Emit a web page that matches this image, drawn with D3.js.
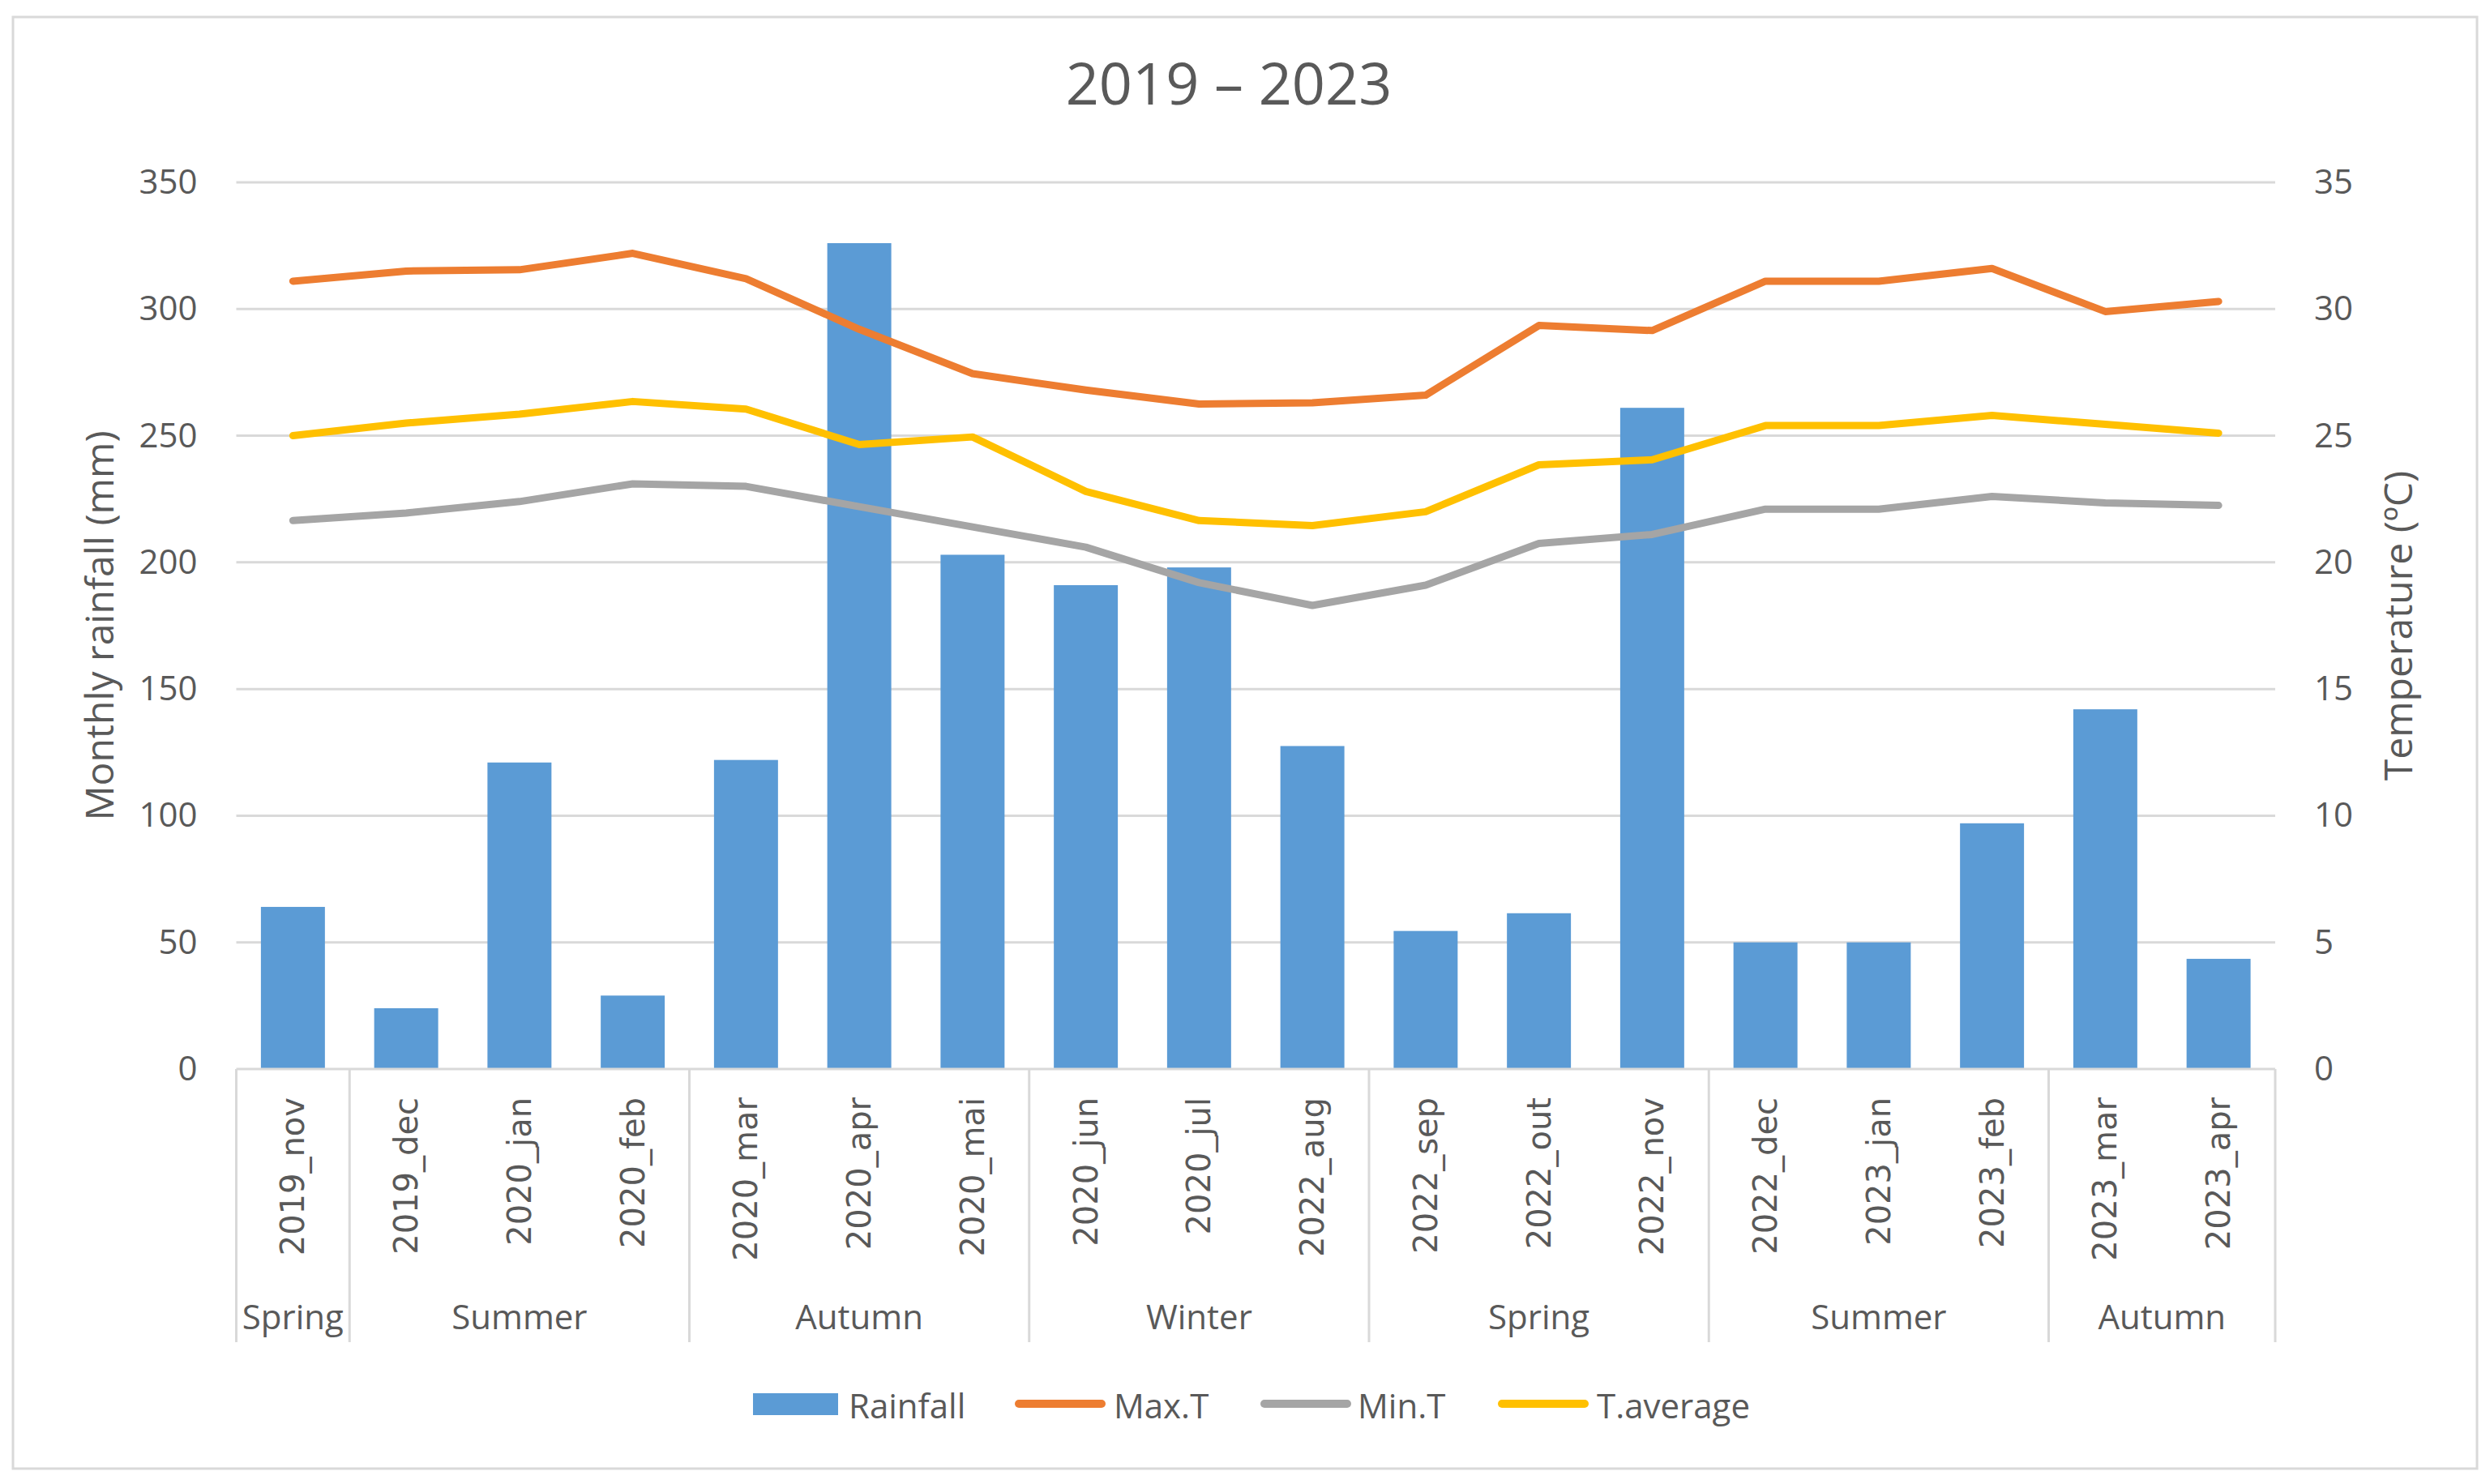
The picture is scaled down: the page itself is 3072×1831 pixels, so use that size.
<!DOCTYPE html>
<html>
<head>
<meta charset="utf-8">
<script src="https://cdn.jsdelivr.net/npm/d3@7"></script>
<style>
  html, body { margin: 0; padding: 0; background: #fff; }
  svg { display: block; }
  text { font-family: "Open Sans", sans-serif; fill: #595959; }
</style>
</head>
<body>
<div id="chart"></div>
<script>
// data
const categories = ["2019_nov", "2019_dec", "2020_jan", "2020_feb", "2020_mar", "2020_apr",
  "2020_mai", "2020_jun", "2020_jul", "2022_aug", "2022_sep", "2022_out",
  "2022_nov", "2022_dec", "2023_jan", "2023_feb", "2023_mar", "2023_apr"];
const seasons = ["Spring", "Summer", "Autumn", "Winter", "Spring", "Summer", "Autumn"];
const seasonSizes = [1, 3, 3, 3, 3, 3, 2];
const rainfall = [64, 24, 121, 29, 122, 326, 203, 191, 198, 127.5, 54.5, 61.5, 261, 50, 50, 97, 142, 43.5];
const maxT = [31.1, 31.5, 31.55, 32.2, 31.2, 29.2, 27.45, 26.8, 26.25, 26.3, 26.6, 29.35, 29.15, 31.1, 31.1, 31.6, 29.9, 30.3];
const minT = [21.65, 21.95, 22.4, 23.1, 23.0, 22.2, 21.4, 20.6, 19.2, 18.3, 19.1, 20.75, 21.1, 22.1, 22.1, 22.6, 22.35, 22.25];
const tAvg = [25.0, 25.5, 25.85, 26.35, 26.05, 24.65, 24.95, 22.8, 21.65, 21.45, 22.0, 23.85, 24.05, 25.4, 25.4, 25.8, 25.45, 25.1];
const rainTicks = [0, 50, 100, 150, 200, 250, 300, 350];
const tempTicks = [0, 5, 10, 15, 20, 25, 30, 35];

const width = 3072, height = 1831;
const margins = {top: 225, left: 291.5, right: 265, bottom: 512};
const grid = "#d9d9d9";
const colors = {rain: "#5b9bd5", max: "#ed7d31", min: "#a5a5a5", avg: "#ffc000"};

const svg = d3.select("#chart").append("svg")
  .attr("width", width)
  .attr("height", height)
  .attr("viewBox", "0 0 " + width + " " + height);

// outer frame
svg.append("rect")
  .attr("x", 16).attr("y", 21)
  .attr("width", 3040).attr("height", 1791)
  .attr("fill", "#fff")
  .attr("stroke", grid)
  .attr("stroke-width", 3);

const x0 = margins.left, x1 = width - margins.right;
const y0 = height - margins.bottom, y1 = margins.top;

const x = d3.scaleBand().domain(categories).range([x0, x1])
  .paddingInner(0.435).paddingOuter(0.2175);
const yRain = d3.scaleLinear().domain([0, 350]).range([y0, y1]);
const yTemp = d3.scaleLinear().domain([0, 35]).range([y0, y1]);
const cx = d => x(d) + x.bandwidth() / 2;

// title
svg.append("text")
  .attr("x", 1516).attr("y", 129)
  .attr("text-anchor", "middle")
  .style("font-size", "72px")
  .text("2019 \u2013 2023");

// gridlines
svg.append("g")
  .selectAll("line")
  .data(rainTicks.filter(d => d > 0))
  .join("line")
  .attr("x1", x0).attr("x2", x1)
  .attr("y1", d => yRain(d)).attr("y2", d => yRain(d))
  .attr("stroke", grid)
  .attr("stroke-width", 3);

// left axis
const left = svg.append("g")
  .attr("transform", "translate(" + x0 + ",0)")
  .call(d3.axisLeft(yRain).tickValues(rainTicks).tickSize(0).tickPadding(48));
left.select(".domain").remove();
left.selectAll("text")
  .style("font-size", "42px")
  .style("font-family", "'Open Sans', sans-serif")
  .attr("fill", "#595959");

// right axis
const right = svg.append("g")
  .attr("transform", "translate(" + x1 + ",0)")
  .call(d3.axisRight(yTemp).tickValues(tempTicks).tickSize(0).tickPadding(48));
right.select(".domain").remove();
right.selectAll("text")
  .style("font-size", "42px")
  .style("font-family", "'Open Sans', sans-serif")
  .attr("fill", "#595959");

// axis titles
svg.append("text")
  .attr("transform", "translate(121,772) rotate(-90)")
  .attr("text-anchor", "middle")
  .attr("dominant-baseline", "central")
  .style("font-size", "48px")
  .text("Monthly rainfall (mm)");

svg.append("text")
  .attr("transform", "translate(2957,772) rotate(-90)")
  .attr("text-anchor", "middle")
  .attr("dominant-baseline", "central")
  .style("font-size", "48px")
  .text("Temperature (\u00baC)");

// bars
svg.append("g")
  .selectAll("rect")
  .data(rainfall)
  .join("rect")
  .attr("x", (d, i) => x(categories[i]))
  .attr("y", d => yRain(d))
  .attr("width", x.bandwidth())
  .attr("height", d => yRain(0) - yRain(d))
  .attr("fill", colors.rain);

// category axis line
svg.append("line")
  .attr("x1", x0).attr("x2", x1)
  .attr("y1", y0).attr("y2", y0)
  .attr("stroke", grid)
  .attr("stroke-width", 3);

// category labels
svg.append("g")
  .selectAll("text")
  .data(categories)
  .join("text")
  .attr("transform", d => "translate(" + cx(d) + ",1354) rotate(-90)")
  .attr("text-anchor", "end")
  .attr("dominant-baseline", "central")
  .style("font-family", "'DejaVu Sans', sans-serif")
  .style("font-size", "40px")
  .text(d => d);

// season groups
const step = x.step();
let start = 0;
const groups = seasons.map((s, i) => {
  const g = {name: s, from: start, to: start + seasonSizes[i]};
  start += seasonSizes[i];
  return g;
});
const bounds = [0].concat(groups.map(g => g.to));

svg.append("g")
  .selectAll("line")
  .data(bounds)
  .join("line")
  .attr("x1", d => x0 + d * step).attr("x2", d => x0 + d * step)
  .attr("y1", y0).attr("y2", 1656)
  .attr("stroke", grid)
  .attr("stroke-width", 3);

svg.append("g")
  .selectAll("text")
  .data(groups)
  .join("text")
  .attr("x", d => x0 + (d.from + d.to) / 2 * step)
  .attr("y", 1640)
  .attr("text-anchor", "middle")
  .style("font-size", "42px")
  .text(d => d.name);

// temperature lines
const series = [
  {name: "Max.T", values: maxT, color: colors.max},
  {name: "Min.T", values: minT, color: colors.min},
  {name: "T.average", values: tAvg, color: colors.avg}
];
const line = d3.line()
  .x((d, i) => cx(categories[i]))
  .y(d => yTemp(d));

svg.append("g")
  .selectAll("path")
  .data(series)
  .join("path")
  .attr("d", d => line(d.values))
  .attr("fill", "none")
  .attr("stroke", d => d.color)
  .attr("stroke-width", 9)
  .attr("stroke-linejoin", "round")
  .attr("stroke-linecap", "round");

// legend
const legend = svg.append("g");
legend.append("rect")
  .attr("x", 929).attr("y", 1719)
  .attr("width", 105).attr("height", 27)
  .attr("fill", colors.rain);
legend.append("text")
  .attr("x", 1047).attr("y", 1733)
  .attr("dominant-baseline", "central")
  .style("font-size", "42px")
  .text("Rainfall");

const legendPos = [
  {x: 1252, tx: 1374},
  {x: 1555, tx: 1675},
  {x: 1848, tx: 1970}
];
series.forEach((s, i) => {
  legend.append("line")
    .attr("x1", legendPos[i].x + 5).attr("x2", legendPos[i].x + 107)
    .attr("y1", 1732).attr("y2", 1732)
    .attr("stroke", s.color)
    .attr("stroke-width", 10)
    .attr("stroke-linecap", "round");
  legend.append("text")
    .attr("x", legendPos[i].tx).attr("y", 1733)
    .attr("dominant-baseline", "central")
    .style("font-size", "42px")
    .text(s.name);
});
</script>
</body>
</html>
